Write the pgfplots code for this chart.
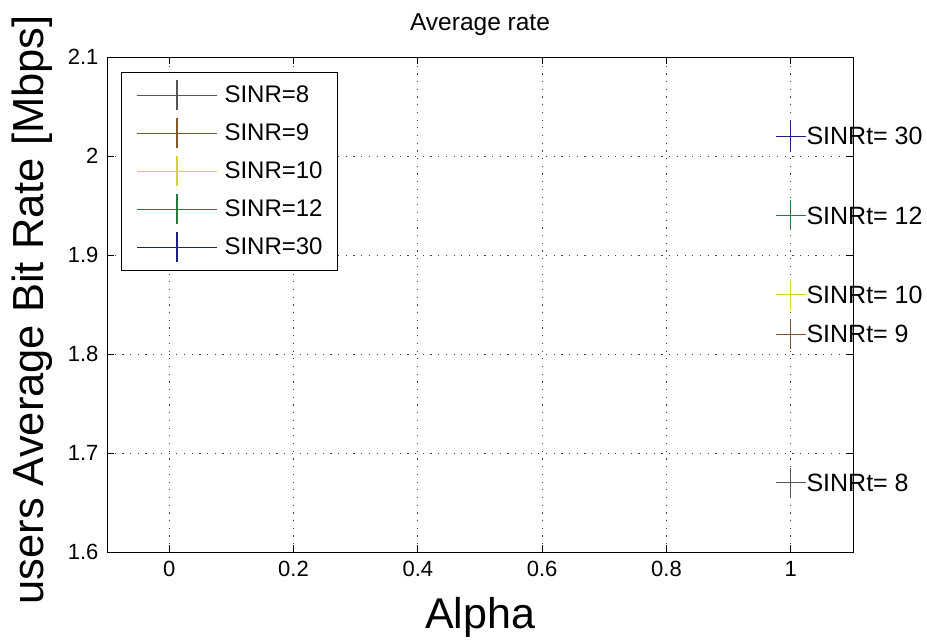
\documentclass[border=0pt]{standalone}
\usepackage{fontspec}
\setmainfont{Liberation Sans}
\usepackage{pgfplots}
\pgfplotsset{compat=1.18}

\definecolor{cEight}{RGB}{85,85,85}
\definecolor{cNine}{RGB}{130,85,40}
\definecolor{cTen}{RGB}{210,210,50}
\definecolor{cTwelve}{RGB}{40,120,60}
\definecolor{cThirty}{RGB}{30,30,130}

\begin{document}
\begin{tikzpicture}
% fixed page frame around the axis box (axis box: 746 x 495)
\useasboundingbox (-107bp,-90bp) rectangle (820bp,552bp);
\begin{axis}[
  scale only axis,
  width=746bp, height=495bp,
  xmin=-0.1, xmax=1.1,
  ymin=1.6, ymax=2.1,
  xtick={0,0.2,0.4,0.6,0.8,1},
  ytick={1.6,1.7,1.8,1.9,2.0,2.1},
  /pgf/number format/assume math mode=true,
  tick align=inside,
  major tick length=7bp,
  tick style={black, line width=0.7bp},
  axis line style={black, line width=0.8bp},
  grid=major,
  major grid style={black!75, line width=0.8bp, dash pattern=on 1.2bp off 6.5bp},
  ticklabel style={font=\fontsize{22bp}{26bp}\selectfont},
  yticklabel style={xshift=-5bp},
  xticklabel style={yshift=-6bp},
  title={Average rate},
  title style={at={(axis description cs:0.5,1.0424)}, anchor=base,
    font=\fontsize{24.5bp}{28bp}\selectfont},
  xlabel={Alpha},
  xlabel style={at={(axis description cs:0.5,-0.155)}, anchor=base,
    font=\fontsize{43bp}{50bp}\selectfont},
  ylabel={users Average Bit Rate [Mbps]},
  ylabel style={at={(axis description cs:-0.0845,0.489)}, anchor=base, rotate=0,
    font=\fontsize{43.5bp}{50bp}\selectfont},
  clip=false,
  every axis plot/.append style={line width=1.1bp, mark=+, mark size=15bp,
    mark options={solid}},
  legend image code/.code={
    \draw[mark repeat=2,mark phase=2] plot coordinates {(0bp,0bp) (40bp,0bp) (80bp,0bp)};
  },
  legend cell align=left,
  legend style={
    at={(axis description cs:0.0188,0.9697)}, anchor=north west,
    draw=black, line width=0.8bp,
    inner xsep=15bp, inner ysep=8bp,
    column sep=7bp, row sep=8bp,
    nodes={inner sep=0bp, text height=17bp, text depth=2bp},
    font=\fontsize{24bp}{28bp}\selectfont,
  },
]
\addplot[cEight]   coordinates {(1,1.67)};
\addplot[cNine]    coordinates {(1,1.82)};
\addplot[cTen]     coordinates {(1,1.86)};
\addplot[cTwelve]  coordinates {(1,1.94)};
\addplot[cThirty]  coordinates {(1,2.02)};
\legend{SINR=8,SINR=9,SINR=10,SINR=12,SINR=30}

% point annotations
\begin{scope}[every node/.style={anchor=west, inner sep=0bp, xshift=15.5bp,
    font=\fontsize{25bp}{29bp}\selectfont}]
  \node at (axis cs:1,1.67) {SINRt= 8};
  \node at (axis cs:1,1.82) {SINRt= 9};
  \node at (axis cs:1,1.86) {SINRt= 10};
  \node at (axis cs:1,1.94) {SINRt= 12};
  \node at (axis cs:1,2.02) {SINRt= 30};
\end{scope}
\end{axis}
\end{tikzpicture}
\end{document}
